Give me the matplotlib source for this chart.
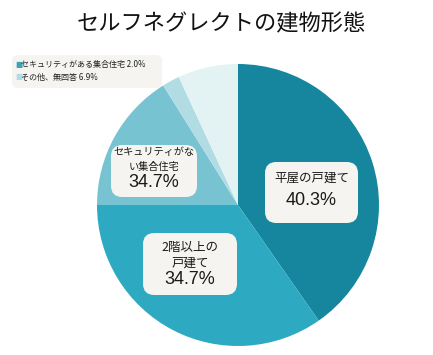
import matplotlib
matplotlib.use("Agg")
import matplotlib.pyplot as plt
from matplotlib.patches import FancyBboxPatch

plt.rcParams['font.family'] = ['Noto Sans CJK JP', 'DejaVu Sans']

# slice data (clockwise from 12 o'clock)
categories = ["平屋の戸建て", "2階以上の戸建て", "セキュリティがない集合住宅",
              "セキュリティがある集合住宅", "その他、無回答"]
values = [40.3, 34.7, 16.1, 2.0, 6.9]
# labels as printed on the original chart
box_heads = [["平屋の戸建て"], ["2階以上の", "戸建て"], ["セキュリティがな", "い集合住宅"]]
box_pcts = ["40.3%", "34.7%", "34.7%"]
legend_labels = ["セキュリティがある集合住宅 2.0%", "その他、無回答 6.9%"]

colors = ["#15869d", "#2ea9c2", "#78c3d2", "#b2dce4", "#e3f3f4"]
legend_colors = ["#3ea3b6", "#b2dce4"]

W, H = 433, 355
fig = plt.figure(figsize=(W / 100, H / 100), dpi=100)

cx, cy, r = 238, 205, 141
ax = fig.add_axes([(cx - r) / W, (H - cy - r) / H, 2 * r / W, 2 * r / H])
ax.pie(values, colors=colors, startangle=90, counterclock=False,
       wedgeprops=dict(linewidth=0))
ax.set_xlim(-1, 1)
ax.set_ylim(-1, 1)
ax.set_aspect('equal')
ax.axis('off')


def px(x, y):
    # picture pixels -> pie data coords
    return (x - cx) / r, (cy - y) / r


# label boxes: (left, top, right, bottom) in pixels, line y positions
boxes = [(265, 162, 358, 223), (143, 233, 237, 295), (111, 145, 197, 197)]
line_ys = [[178, 201], [247, 263, 280], [152, 167, 183]]
head_sizes = [9, 9, 7.3]

for (l, t, rr, b), heads, pct, ys, fs in zip(boxes, box_heads, box_pcts, line_ys, head_sizes):
    x0, y0 = px(l, b)
    x1, y1 = px(rr, t)
    ax.add_patch(FancyBboxPatch((x0, y0), x1 - x0, y1 - y0,
                                boxstyle="round,pad=0,rounding_size=0.08",
                                fc="#f5f4f0", ec="none"))
    xm = (x0 + x1) / 2
    for h, yy in zip(heads, ys[:-1]):
        ax.text(xm, px(0, yy)[1], h, ha='center', va='center', fontsize=fs,
                color='#1a1a1a')
    ax.text(xm, px(0, ys[-1])[1], pct, ha='center', va='center', fontsize=13,
            color='#1a1a1a', family=['Liberation Sans', 'DejaVu Sans'])

fig.text((77 + 366) / 2 / W, 1 - 24 / H, "セルフネグレクトの建物形態", ha='center', va='center',
         fontsize=16, color='#111111')

# legend box
leg = FancyBboxPatch((12 / W, 1 - 88 / H), 150 / W, 33 / H,
                     boxstyle="round,pad=0,rounding_size=0.015",
                     transform=fig.transFigure, fc="#f5f4f0", ec="none")
fig.patches.append(leg)
for i, (lab, c) in enumerate(zip(legend_labels, legend_colors)):
    yy = 1 - (64 + 13 * i) / H
    fig.text(15 / W, yy, "■", color=c, fontsize=5.5, va='center', ha='left',
             family=['DejaVu Sans'])
    fig.text(21 / W, yy, lab, color='#222222', fontsize=5.8, va='center', ha='left')

fig.savefig("out.png", dpi=100)
